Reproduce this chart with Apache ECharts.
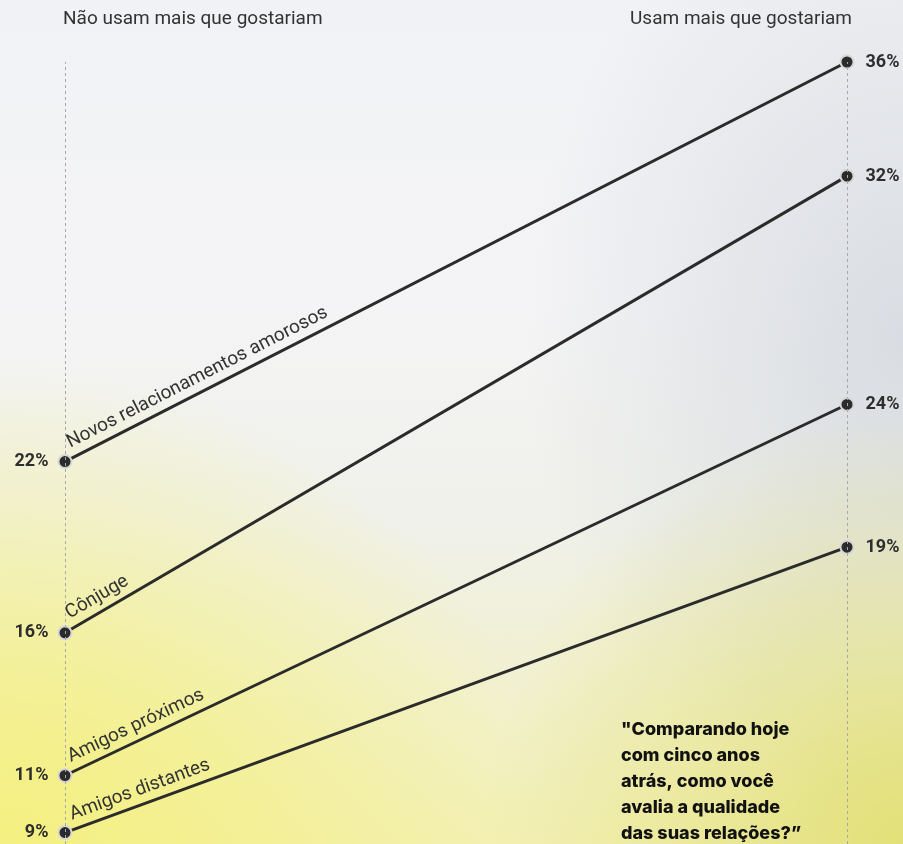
<!DOCTYPE html>
<html>
<head>
<meta charset="utf-8">
<script src="https://cdn.jsdelivr.net/npm/echarts@6/dist/echarts.min.js"></script>
<style>
  html, body { margin: 0; padding: 0; }
  #chart {
    width: 903px; height: 844px;
    background:
      radial-gradient(ellipse 540px 480px at 0% 100%, rgba(244,240,128,1) 0%, rgba(244,240,128,0.6) 45%, rgba(244,240,128,0) 100%),
      radial-gradient(ellipse 420px 430px at 100% 100%, rgba(226,224,120,1) 0%, rgba(226,224,120,0.5) 45%, rgba(226,224,120,0) 100%),
      radial-gradient(ellipse 380px 480px at 100% 40%, rgba(212,216,222,0.85) 0%, rgba(212,216,222,0) 100%),
      linear-gradient(to bottom, #f1f2f5 0%, #f4f4f6 35%, #f0f1ea 62%, #f3f0b6 100%);
  }
</style>
</head>
<body>
<div id="chart"></div>
<script>
// ---- data ----
var categories = ['Novos relacionamentos amorosos', 'Cônjuge', 'Amigos próximos', 'Amigos distantes'];
var naoUsam = [22, 16, 11, 9];     // "Não usam mais que gostariam"
var usam    = [36, 32, 24, 19];    // "Usam mais que gostariam"
var columnTitles = ['Não usam mais que gostariam', 'Usam mais que gostariam'];
var quote = '"Comparando hoje\ncom cinco anos\natrás, como você\navalia a qualidade\ndas suas relações?”';

var chart = echarts.init(document.getElementById('chart'), null, {renderer: 'canvas'});

var dark = '#2b2b2b';
var series = categories.map(function (name, i) {
  return {
    name: name,
    type: 'line',
    data: [
      { value: [0, naoUsam[i]], label: { position: 'left', distance: 9 } },
      { value: [1, usam[i]], label: { position: 'right', distance: 11 } }
    ],
    symbol: 'circle',
    symbolSize: 13,
    lineStyle: { color: dark, width: 3 },
    itemStyle: { color: dark, borderColor: '#d6d6d6', borderWidth: 2 },
    label: {
      show: true,
      formatter: function (p) { return p.value[1] + '%'; },
      fontFamily: 'Roboto', fontWeight: 'bold', fontSize: 18, color: '#2e2e2e'
    },
    z: 3,
    silent: true,
    animation: false
  };
});
// dashed vertical guide lines
series.push({
  type: 'line', data: [], silent: true, animation: false,
  markLine: {
    symbol: 'none', silent: true, label: { show: false },
    lineStyle: { color: '#a8a8a8', type: [3, 3], width: 1 },
    data: [{ xAxis: 0 }, { xAxis: 1 }]
  },
  z: 1
});

chart.setOption({
  animation: false,
  backgroundColor: 'transparent',
  title: [
    { text: columnTitles[0], left: 58, top: 5,
      textStyle: { fontFamily: 'Roboto', fontWeight: 'normal', fontSize: 19, color: '#333' } },
    { text: columnTitles[1], right: 46, top: 5,
      textStyle: { fontFamily: 'Roboto', fontWeight: 'normal', fontSize: 19, color: '#333' } },
    { text: quote, left: 616, top: 712,
      textStyle: { fontFamily: 'Inter', fontWeight: 800, fontSize: 18, lineHeight: 26, color: '#111' } }
  ],
  grid: { left: 65, right: 56, top: 62, bottom: 0 },
  xAxis: { type: 'value', min: 0, max: 1, show: false },
  yAxis: { type: 'value', min: 8.6, max: 36, show: false },
  series: series
});

// rotated category labels along each line
var graphics = categories.map(function (name, i) {
  var p0 = chart.convertToPixel({ gridIndex: 0 }, [0, naoUsam[i]]);
  var p1 = chart.convertToPixel({ gridIndex: 0 }, [1, usam[i]]);
  var dx = p1[0] - p0[0], dy = p1[1] - p0[1];
  var len = Math.sqrt(dx * dx + dy * dy);
  var ux = dx / len, uy = dy / len;
  var nx = -uy, ny = ux;
  if (ny > 0) { nx = -nx; ny = -ny; }
  var along = 11, off = 5;
  return {
    type: 'text',
    x: p0[0] + ux * along + nx * off,
    y: p0[1] + uy * along + ny * off,
    rotation: Math.atan2(-dy, dx),
    style: {
      text: name,
      fontFamily: 'Roboto', fontSize: 19, fill: '#333',
      align: 'left', verticalAlign: 'bottom'
    },
    silent: true,
    z: 10
  };
});
chart.setOption({ graphic: graphics });
</script>
</body>
</html>
